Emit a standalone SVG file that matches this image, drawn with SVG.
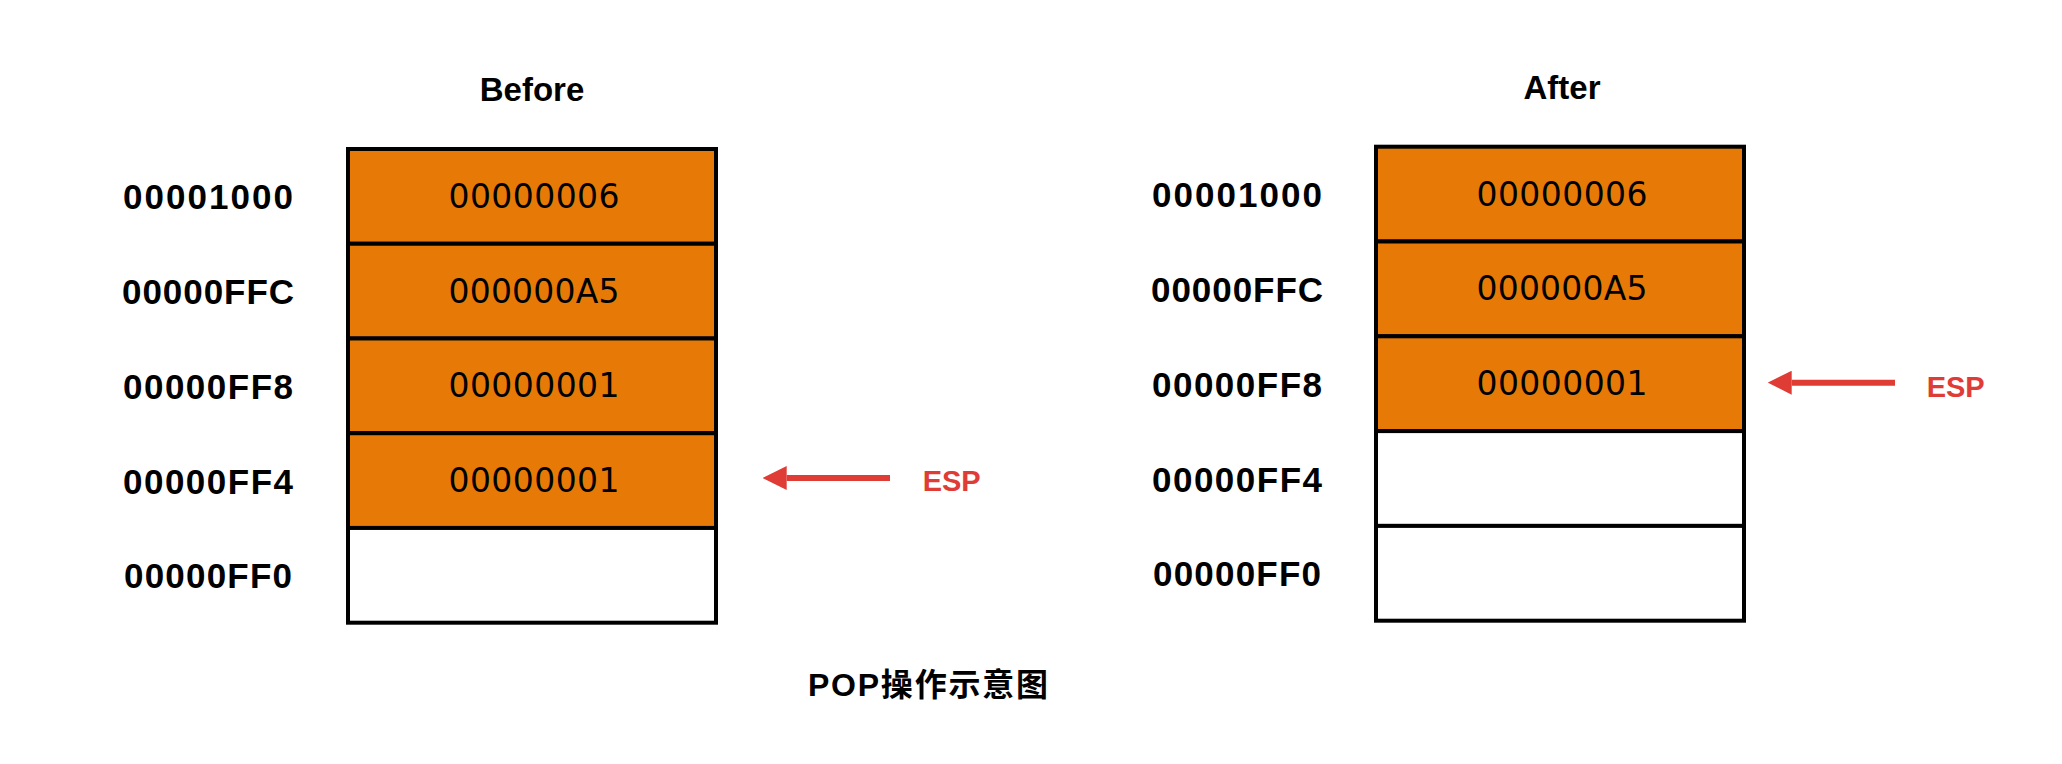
<svg xmlns="http://www.w3.org/2000/svg" width="2062" height="764" viewBox="0 0 2062 764">
<style>
  .bg{fill:#ffffff}
  .cell{stroke:#000;stroke-width:4}
  .full{fill:#E77A07}
  .empty{fill:#ffffff}
  .head{font-family:"Liberation Sans",Arial,sans-serif;font-weight:bold;font-size:33px;fill:#000;text-anchor:middle}
  .addr{font-family:"Liberation Sans",Arial,sans-serif;font-weight:bold;font-size:35px;fill:#000;text-anchor:middle}
  .val{font-family:"DejaVu Sans","Liberation Sans",sans-serif;font-size:33px;fill:#000;text-anchor:middle}
  .esp{font-family:"Liberation Sans",Arial,sans-serif;font-weight:bold;font-size:29px;fill:#E03C36}
  .arrow{stroke:#E03C36;stroke-width:6;fill:none}
  .title{font-family:"Liberation Sans","Noto Sans CJK SC",sans-serif;font-weight:bold;font-size:32px;fill:#000}
</style>
<defs>
  <marker id="ah" markerUnits="userSpaceOnUse" markerWidth="24" markerHeight="24" refX="0" refY="12" orient="auto" viewBox="0 0 24 24">
    <path d="M0,0 L24,12 L0,24 Z" fill="#E03C36"/>
  </marker>
</defs>
<rect class="bg" x="0" y="0" width="2062" height="764"/>

<g id="before">
  <text class="head" x="532" y="101">Before</text>
  <g id="before-stack">
    <rect class="cell full" x="348" y="149" width="368" height="94.74"/>
    <rect class="cell full" x="348" y="243.74" width="368" height="94.74"/>
    <rect class="cell full" x="348" y="338.48" width="368" height="94.74"/>
    <rect class="cell full" x="348" y="433.22" width="368" height="94.74"/>
    <rect class="cell empty" x="348" y="527.96" width="368" height="94.74"/>
    <text class="val" x="534" y="208" textLength="171" lengthAdjust="spacing">00000006</text>
    <text class="val" x="534" y="302.6" textLength="171" lengthAdjust="spacing">000000A5</text>
    <text class="val" x="534" y="397.3" textLength="171" lengthAdjust="spacing">00000001</text>
    <text class="val" x="534" y="492.1" textLength="171" lengthAdjust="spacing">00000001</text>
  </g>
  <g id="before-addr">
    <text class="addr" x="208" y="209.4" textLength="170" lengthAdjust="spacing">00001000</text>
    <text class="addr" x="208" y="304.1" textLength="172" lengthAdjust="spacing">00000FFC</text>
    <text class="addr" x="208" y="398.8" textLength="170" lengthAdjust="spacing">00000FF8</text>
    <text class="addr" x="208" y="493.6" textLength="170" lengthAdjust="spacing">00000FF4</text>
    <text class="addr" x="208" y="588.3" textLength="168" lengthAdjust="spacing">00000FF0</text>
  </g>
  <text id="before-esp" class="esp" x="922.7" y="491">ESP</text>
</g>

<g id="after">
  <text class="head" x="1562" y="98.6">After</text>
  <g id="after-stack">
    <rect class="cell full" x="1376" y="146.7" width="368" height="94.8"/>
    <rect class="cell full" x="1376" y="241.5" width="368" height="94.8"/>
    <rect class="cell full" x="1376" y="336.3" width="368" height="94.8"/>
    <rect class="cell empty" x="1376" y="431.1" width="368" height="94.8"/>
    <rect class="cell empty" x="1376" y="525.9" width="368" height="94.8"/>
    <text class="val" x="1562" y="205.6" textLength="171" lengthAdjust="spacing">00000006</text>
    <text class="val" x="1562" y="300.4" textLength="171" lengthAdjust="spacing">000000A5</text>
    <text class="val" x="1562" y="395.2" textLength="171" lengthAdjust="spacing">00000001</text>
  </g>
  <g id="after-addr">
    <text class="addr" x="1237" y="207.1" textLength="170" lengthAdjust="spacing">00001000</text>
    <text class="addr" x="1237" y="301.9" textLength="172" lengthAdjust="spacing">00000FFC</text>
    <text class="addr" x="1237" y="396.7" textLength="170" lengthAdjust="spacing">00000FF8</text>
    <text class="addr" x="1237" y="491.5" textLength="170" lengthAdjust="spacing">00000FF4</text>
    <text class="addr" x="1237" y="586.3" textLength="168" lengthAdjust="spacing">00000FF0</text>
  </g>
  <text id="after-esp" class="esp" x="1926.7" y="397.3">ESP</text>
</g>

<g id="connectors">
  <path class="arrow" d="M890,478 L786.7,478" marker-end="url(#ah)"/>
  <path class="arrow" d="M1895,382.7 L1791.7,382.7" marker-end="url(#ah)"/>
</g>

<text id="title" class="title" x="808" y="696" textLength="240" lengthAdjust="spacing">POP操作示意图</text>
</svg>
